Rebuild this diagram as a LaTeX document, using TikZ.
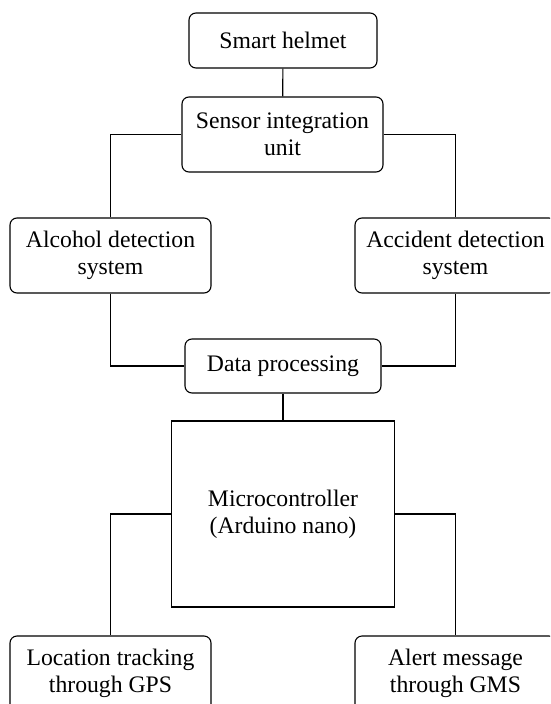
\documentclass[tikz,border=0pt]{standalone}
\usepackage{fontspec}
\setmainfont{Liberation Serif}
\begin{document}
\begin{tikzpicture}[x=1pt,y=-1pt,
  box/.style={draw, line width=1.1pt, rounded corners=7pt, inner sep=0pt, align=center,
    font=\fontsize{23.7}{27}\selectfont},
  sqbox/.style={draw, line width=1.1pt, inner sep=0pt, align=center,
    font=\fontsize{23.7}{27}\selectfont},
  link/.style={line width=1.1pt}]
\useasboundingbox (0,0) rectangle (550,704);
\clip (0,0) rectangle (550,704);
\fill[white] (0,0) rectangle (550,704);
\node[box, minimum width=188pt, minimum height=55pt] (helmet) at (283,40.5) {Smart helmet};
\node[box, minimum width=201pt, minimum height=75pt] (sensor) at (282.5,134.5) {Sensor integration\\unit};
\node[box, minimum width=201pt, minimum height=75pt] (alcohol) at (110.5,255.5) {Alcohol detection\\system};
\node[box, minimum width=201pt, minimum height=75pt] (accident) at (455.5,255.5) {Accident detection\\system};
\node[box, minimum width=196pt, minimum height=54pt] (data) at (283,366) {Data processing};
\node[sqbox, minimum width=222.5pt, minimum height=186pt] (micro) at (283,514) {Microcontroller\\(Arduino nano)};
\node[box, minimum width=201pt, minimum height=75pt] (loc) at (110.5,673.5) {Location tracking\\through GPS};
\node[box, minimum width=201pt, minimum height=75pt] (alert) at (455.5,673.5) {Alert message\\through GMS};
\draw[link] (helmet) -- (sensor);
\draw[link] (sensor.west) -| (alcohol.north);
\draw[link] (sensor.east) -| (accident.north);
\draw[link] (alcohol.south) |- (data.west);
\draw[link] (accident.south) |- (data.east);
\draw[link] (data) -- (micro);
\draw[link] (micro.west) -| (loc.north);
\draw[link] (micro.east) -| (alert.north);
\end{tikzpicture}
\end{document}
